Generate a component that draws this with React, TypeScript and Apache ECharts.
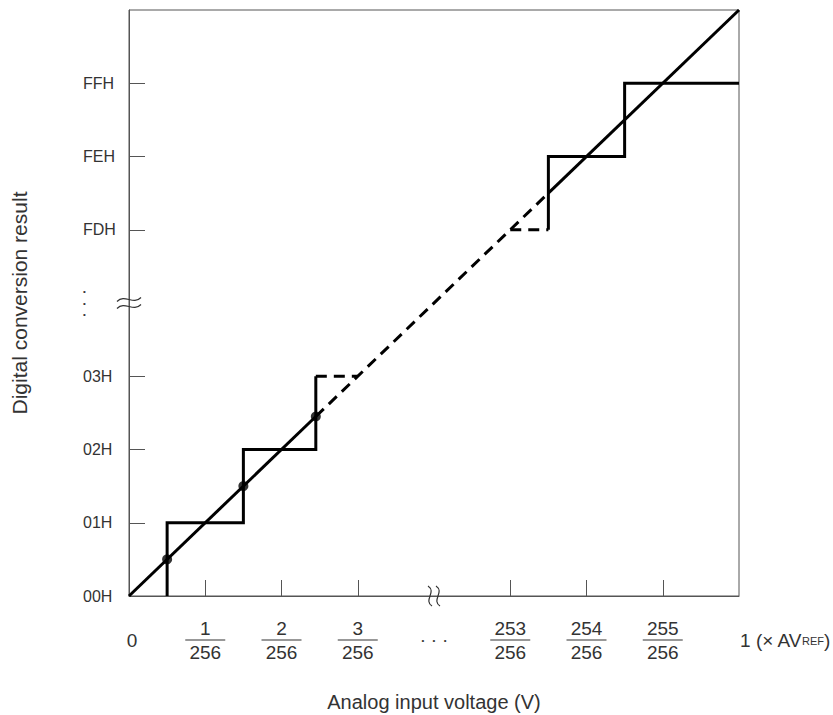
import React, { useEffect, useRef } from 'react';
import * as echarts from 'echarts';

const xTickValues = [0, 1, 2, 3, 4, 5, 6, 7, 8];
const xTickLabels = ['0', '1/256', '2/256', '3/256', 'dots', '253/256', '254/256', '255/256', '1 (× AVREF)'];
const xTickMarks = [1, 2, 3, 5, 6, 7];
const yTickValues = [0, 1, 2, 3, 4, 5, 6, 7];
const yTickLabels = ['00H', '01H', '02H', '03H', 'dots', 'FDH', 'FEH', 'FFH'];
const yTickMarks = [1, 2, 3, 5, 6, 7];

const idealLineLow = [[0, 0], [2.45, 2.45]];
const idealLineMid = [[2.45, 2.45], [5.5, 5.5]];
const idealLineHigh = [[5.5, 5.5], [8, 8]];
const stairLow = [[0.5, 0], [0.5, 1], [1.5, 1], [1.5, 2], [2.45, 2], [2.45, 3]];
const stairLowDashed = [[2.45, 3], [3, 3]];
const stairHighDashed = [[5, 5], [5.5, 5]];
const stairHigh = [[5.5, 5], [5.5, 6], [6.5, 6], [6.5, 7], [8, 7]];
const transitionPoints = [[0.5, 0.5], [1.5, 1.5], [2.45, 2.45]];
const axisBreaks = [[4, 0], [0, 4]];

const FONT = 'Liberation Sans';
const TEXT = '#333';
const AXIS = '#555';
const INK = '#000';
const DASH = [11, 7];
const XFS = 19;

function xLabel(value: number): string {
  const i = xTickValues.indexOf(value);
  if (i < 0) return '';
  const s = xTickLabels[i];
  if (s === 'dots') return '{dot|•}{dot|•}{dot|•}';
  if (s.indexOf('/') >= 0) {
    const [n, d] = s.split('/');
    return `{n|${n}}\n{l| }\n{d|${d}}`;
  }
  if (s.indexOf('AVREF') >= 0) {
    return '{a1|1 (× AV}{s|REF}{a|)}';
  }
  return `{z|${s}}`;
}

function yLabel(value: number): string {
  const i = yTickValues.indexOf(value);
  if (i < 0) return '';
  const s = yTickLabels[i];
  if (s === 'dots') return '{v|•}\n{v|•}\n{v|•}';
  return s;
}

function lineSeries(data: number[][], dashed: boolean) {
  return {
    type: 'line',
    data,
    showSymbol: false,
    symbol: 'none',
    silent: true,
    lineStyle: { color: INK, width: 3, type: dashed ? DASH : 'solid', cap: 'butt', join: 'miter' },
    z: 3,
  };
}

export default function App() {
  const ref = useRef<HTMLDivElement>(null);
  useEffect(() => {
    document.body.style.margin = '0';
    const chart = echarts.init(ref.current!, undefined, { renderer: 'svg' });
    const option: any = {
      animation: false,
      backgroundColor: '#fff',
      textStyle: { fontFamily: FONT, color: TEXT },
      grid: {
        left: 129, right: 94, top: 10, bottom: 119,
        outerBoundsMode: 'none',
        containLabel: false,
        show: true, borderColor: AXIS, borderWidth: 1,
      },
      xAxis: {
        type: 'value',
        min: 0,
        max: 8,
        interval: 1,
        name: 'Analog input voltage (V)',
        nameLocation: 'middle',
        nameGap: 96,
        nameTextStyle: { fontFamily: FONT, fontSize: 20, color: TEXT },
        splitLine: { show: false },
        axisLine: { show: true, lineStyle: { color: AXIS, width: 1 } },
        axisTick: { show: true, inside: true, length: 16, customValues: xTickMarks, lineStyle: { color: AXIS, width: 1 } },
        axisLabel: {
          show: true,
          customValues: xTickValues,
          showMinLabel: true,
          showMaxLabel: true,
          hideOverlap: false,
          margin: 44,
          verticalAlign: 'middle',
          formatter: xLabel,
          fontFamily: FONT,
          fontSize: XFS,
          color: TEXT,
          rich: {
            n: { fontFamily: FONT, fontSize: XFS, color: TEXT, lineHeight: 20, align: 'center' },
            d: { fontFamily: FONT, fontSize: XFS, color: TEXT, lineHeight: 20, align: 'center' },
            l: { width: 40, height: 1, lineHeight: 4, fontSize: 2, backgroundColor: TEXT },
            z: { fontFamily: FONT, fontSize: XFS, color: TEXT, padding: [0, 0, 0, 6] },
            dot: { fontFamily: FONT, fontSize: 8, color: TEXT, padding: [0, 4.2, 0, 4.2] },
            a1: { fontFamily: FONT, fontSize: XFS, color: TEXT, padding: [0, 0, 0, 92] },
            a: { fontFamily: FONT, fontSize: XFS, color: TEXT },
            s: { fontFamily: FONT, fontSize: 11, color: TEXT, verticalAlign: 'bottom', padding: [0, 0, 3, 0] },
          },
        },
      },
      yAxis: {
        type: 'value',
        min: 0,
        max: 8,
        interval: 1,
        name: 'Digital conversion result',
        nameLocation: 'middle',
        nameRotate: 90,
        nameGap: 99,
        nameTextStyle: { fontFamily: FONT, fontSize: 21, color: TEXT },
        splitLine: { show: false },
        axisLine: { show: true, lineStyle: { color: AXIS, width: 1 } },
        axisTick: { show: true, inside: true, length: 16, customValues: yTickMarks, lineStyle: { color: AXIS, width: 1 } },
        axisLabel: {
          show: true,
          customValues: yTickValues,
          showMinLabel: true,
          showMaxLabel: true,
          align: 'left',
          margin: 46,
          formatter: yLabel,
          fontFamily: FONT,
          fontSize: 16,
          color: TEXT,
          rich: {
            v: { fontFamily: FONT, fontSize: 8, color: TEXT, lineHeight: 11.7 },
          },
        },
      },
      series: [
        lineSeries(idealLineLow, false),
        lineSeries(idealLineMid, true),
        lineSeries(idealLineHigh, false),
        lineSeries(stairLow, false),
        lineSeries(stairLowDashed, true),
        lineSeries(stairHighDashed, true),
        lineSeries(stairHigh, false),
        {
          type: 'scatter',
          data: transitionPoints,
          symbol: 'circle',
          symbolSize: 10,
          silent: true,
          itemStyle: { color: INK },
          z: 4,
        },
        {
          type: 'custom',
          data: axisBreaks,
          clip: false,
          silent: true,
          z: 5,
          renderItem: (params: any, api: any) => {
            const p = api.coord([api.value(0), api.value(1)]);
            const style = { stroke: '#333', lineWidth: 1.2, fill: 'none' };
            const children: any[] = [];
            if (params.dataIndex === 0) {
              for (const dx of [-4, 4]) {
                const x = p[0] + dx;
                children.push({
                  type: 'bezierCurve',
                  shape: { x1: x - 2, y1: p[1] - 10, cpx1: x + 7, cpy1: p[1] - 4, cpx2: x - 7, cpy2: p[1] + 4, x2: x + 2, y2: p[1] + 10 },
                  style,
                });
              }
            } else {
              for (const dy of [-3.5, 3.5]) {
                const y = p[1] + dy;
                children.push({
                  type: 'bezierCurve',
                  shape: { x1: p[0] - 12, y1: y + 2, cpx1: p[0] - 4, cpy1: y - 6, cpx2: p[0] + 4, cpy2: y + 6, x2: p[0] + 12, y2: y - 2 },
                  style,
                });
              }
            }
            return { type: 'group', children };
          },
        },
      ],
    };
    chart.setOption(option);
    return () => chart.dispose();
  }, []);
  return <div ref={ref} style={{ width: 833, height: 715 }} />;
}
